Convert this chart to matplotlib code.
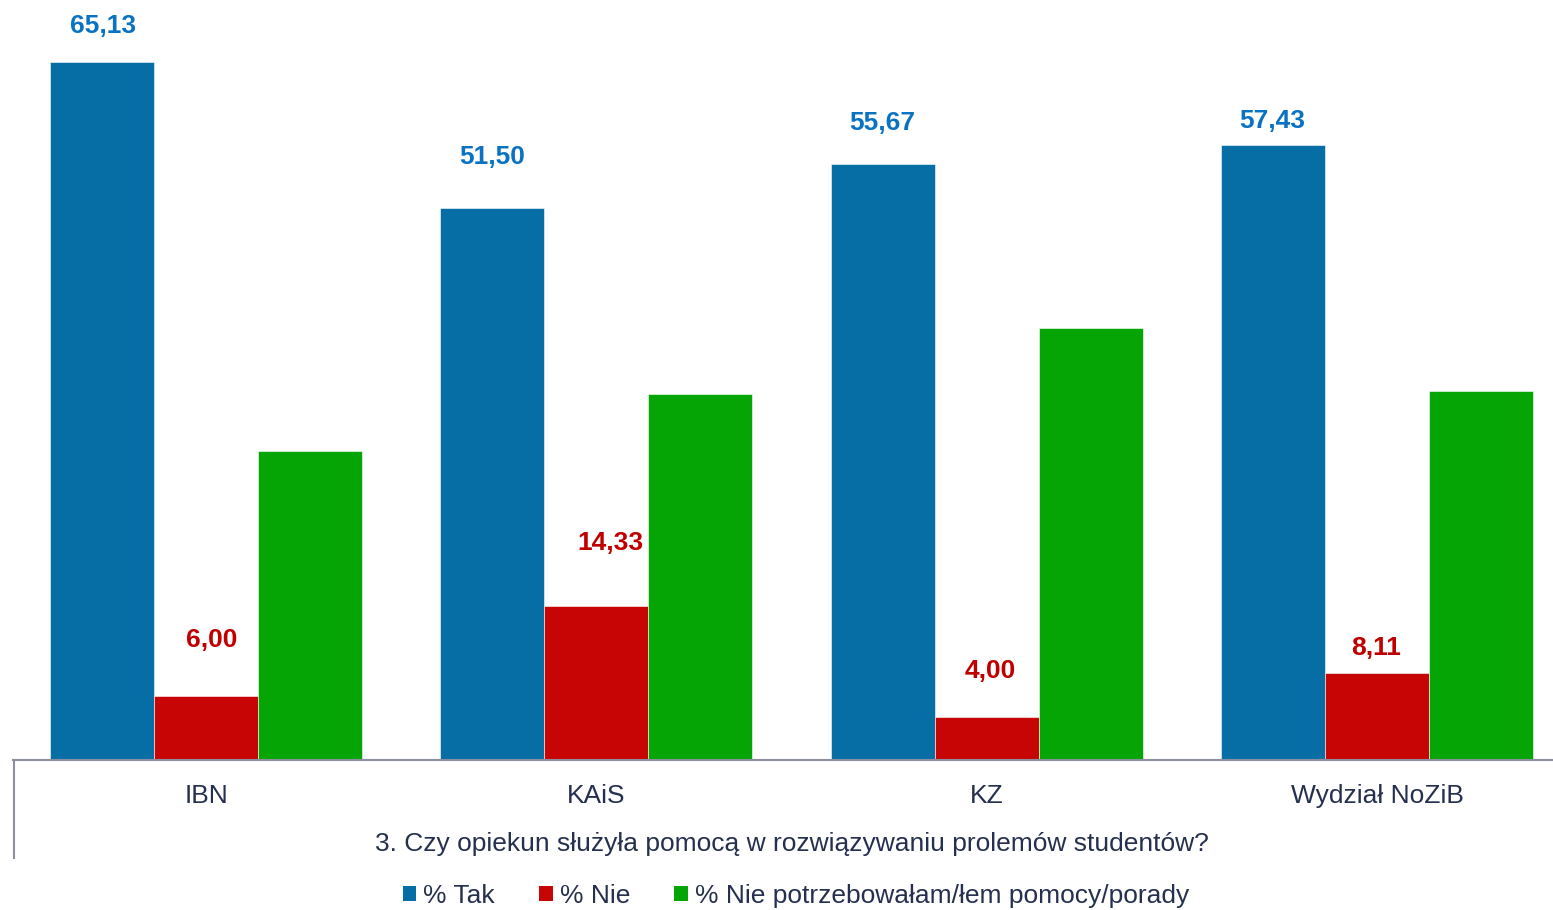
import numpy as np
import matplotlib.pyplot as plt
from matplotlib.patches import Patch
from matplotlib.lines import Line2D

plt.rcParams['font.family'] = ['Liberation Sans', 'DejaVu Sans']

# dane
kategorie = ['IBN', 'KAiS', 'KZ', 'Wydział NoZiB']
tak = [65.13, 51.50, 55.67, 57.43]
nie = [6.00, 14.33, 4.00, 8.11]
nie_potrzeb = [28.87, 34.17, 40.33, 34.46]
serie = ['% Tak', '% Nie', '% Nie potrzebowałam/łem pomocy/porady']

# przesunięcia etykiet (px) – jak w oryginale, nieregularne
przes_tak = [(1, 36), (0, 51), (0, 41), (-1, 24)]
przes_nie = [(6, 56), (14, 63), (4, 46), (-1, 25)]

kolory = ['#066DA5', '#C80505', '#05A505']
kolory_etykiet = ['#0A72C2', '#C00000', None]
tekst = '#253050'
os_kolor = '#8C8FA0'

W, H = 1553, 910
fig = plt.figure(figsize=(W / 100, H / 100), dpi=100)
ax = fig.add_axes([13 / W, 150 / H, 1540 / W, 750 / H])

krok = 390.3  # px na kategorię
x = np.arange(len(kategorie))
szer = 104 / krok
przes = [przes_tak, przes_nie, None]
for i, (vals, kol) in enumerate(zip([tak, nie, nie_potrzeb], kolory)):
    bars = ax.bar(x + (i - 1) * szer, vals, szer, color=kol,
                  edgecolor='white', linewidth=0.4, zorder=2)
    if kolory_etykiet[i]:
        for b, v, (dx, dy) in zip(bars, vals, przes[i]):
            ax.annotate(f'{v:.2f}'.replace('.', ','),
                        (b.get_x() + b.get_width() / 2, v),
                        xytext=(dx * 0.72, dy * 0.72), textcoords='offset points',
                        ha='center', va='center', fontsize=19,
                        fontweight='bold', color=kolory_etykiet[i])

ax.set_xlim(-(206 - 13) / krok, 3 + (1553 - 1377) / krok)
ax.set_ylim(0, 70)
ax.set_yticks([])
for s in ['top', 'right', 'left']:
    ax.spines[s].set_visible(False)
ax.spines['bottom'].set_color(os_kolor)
ax.spines['bottom'].set_linewidth(1.5)
ax.set_xticks(x)
ax.set_xticklabels(kategorie, fontsize=19, color=tekst)
ax.tick_params(axis='x', length=0, pad=17)
ax.set_xlabel('3. Czy opiekun służyła pomocą w rozwiązywaniu prolemów studentów?',
              fontsize=19, color=tekst)
ax.xaxis.set_label_coords((792 - 13) / 1540, -0.096)

# pionowa linia osi kategorii
fig.add_artist(Line2D([13.5 / W, 13.5 / W], [1 - 760 / H, 1 - 858 / H],
                      transform=fig.transFigure, color=os_kolor, linewidth=1.5))

uchwyty = [Patch(facecolor=k, edgecolor='none') for k in kolory]
fig.legend(uchwyty, serie, loc='center', bbox_to_anchor=(796 / W, 1 - 896 / H),
           ncol=3, frameon=False, fontsize=19, labelcolor=tekst,
           handlelength=0.52, handleheight=0.52, handletextpad=0.27,
           columnspacing=1.67)

fig.savefig('out.png', dpi=100)
